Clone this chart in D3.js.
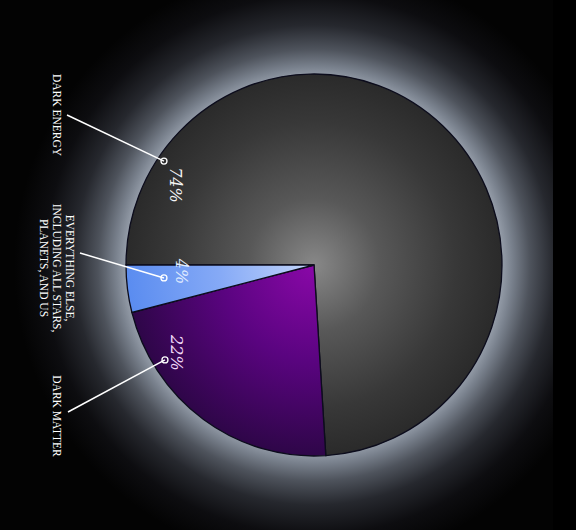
<!DOCTYPE html>
<html><head><meta charset="utf-8">
<script src="https://cdn.jsdelivr.net/npm/d3@7"></script>
<style>html,body{margin:0;padding:0;background:#000;overflow:hidden}svg{display:block}</style>
</head><body>
<script>
// ---- data ----
const categories = ["DARK ENERGY", "DARK MATTER", "EVERYTHING ELSE"];
const values = [74, 22, 4];
const percentLabels = ["74%", "22%", "4%"];
const labelLines = [
  ["DARK ENERGY"],
  ["DARK MATTER"],
  ["EVERYTHING ELSE,", "INCLUDING ALL STARS,", "PLANETS, AND US"]
];

// ---- layout ----
const W = 576, H = 530;
const cx = 314, cy = 265, R = 188, yStretch = 191 / 188;
// annotation anchors (polar around pie centre: angle in radians, radius)
const dotPolar = [[-0.965, 182.5], [-2.138, 176.7], [-1.657, 150.6]];
const textPolar = [[-1.047, 160], [-2.140, 163], [-1.620, 133]];
const labelPos = [[57, 115], [57, 416], [57, 268]];
const lineStart = [[67, 115], [68, 412], [80, 253]];

const svg = d3.select("body").append("svg").attr("width", W).attr("height", H);
const defs = svg.append("defs");

const halo = defs.append("radialGradient").attr("id", "halo")
  .attr("gradientUnits", "userSpaceOnUse").attr("cx", cx).attr("cy", cy).attr("r", 300);
[[0, "#9aa2ae"], [0.62, "#9aa2ae"], [0.66, "#7a828e"], [0.72, "#4e535c"], [0.80, "#26282e"], [0.90, "#0d0d10"], [1, "#030303"]]
  .forEach(([o, c]) => halo.append("stop").attr("offset", o).attr("stop-color", c));

function radial(id, stops) {
  const g = defs.append("radialGradient").attr("id", id)
    .attr("gradientUnits", "userSpaceOnUse").attr("cx", 0).attr("cy", 0).attr("r", R);
  stops.forEach(([o, c]) => g.append("stop").attr("offset", o).attr("stop-color", c));
}
radial("gDE", [[0, "#888888"], [0.35, "#585858"], [0.75, "#383838"], [1, "#2a2a2a"]]);
radial("gDM", [[0, "#8a08a8"], [0.5, "#5a0480"], [1, "#2e0648"]]);
radial("gEE", [[0, "#c4d6fb"], [0.5, "#86aaf6"], [1, "#5a8cf0"]]);
const fills = ["url(#gDE)", "url(#gDM)", "url(#gEE)"];

svg.append("rect").attr("width", W).attr("height", H).attr("fill", "url(#halo)");
svg.append("rect").attr("x", 553).attr("width", W - 553).attr("height", H).attr("fill", "#000");

const pie = d3.pie().sort(null).startAngle(1.5 * Math.PI).endAngle(3.5 * Math.PI);
const arc = d3.arc().innerRadius(0).outerRadius(R);
const arcs = pie(values);

const g = svg.append("g").attr("transform", `translate(${cx},${cy}) scale(1,${yStretch})`);
g.selectAll("path").data(arcs).join("path")
  .attr("d", arc)
  .attr("fill", (d, i) => fills[i])
  .attr("stroke", "#0c0c1c").attr("stroke-width", 1.3);

// annotations
const pt = (p) => { const q = d3.pointRadial(p[0], p[1]); return [cx + q[0], cy + q[1]]; };
categories.forEach((c, i) => {
  const dot = pt(dotPolar[i]);
  svg.append("line")
    .attr("x1", lineStart[i][0]).attr("y1", lineStart[i][1])
    .attr("x2", dot[0]).attr("y2", dot[1])
    .attr("stroke", "#ffffff").attr("stroke-width", 1.5);
  svg.append("circle").attr("cx", dot[0]).attr("cy", dot[1]).attr("r", 3)
    .attr("fill", "none").attr("stroke", "#ffffff").attr("stroke-width", 1.3);
  const tp = pt(textPolar[i]);
  svg.append("text")
    .attr("transform", `translate(${tp[0]},${tp[1]}) rotate(90)`)
    .attr("text-anchor", "middle").attr("dy", "0.35em")
    .attr("font-family", "'DejaVu Serif', serif").attr("font-style", "italic")
    .attr("font-size", 16)
    .attr("fill", i === 1 ? "#f0d8f8" : (i === 2 ? "#e0ecff" : "#f4f4f4"))
    .text(percentLabels[i]);
  const lines = labelLines[i];
  const t = svg.append("text")
    .attr("transform", `translate(${labelPos[i][0]},${labelPos[i][1]}) rotate(90)`)
    .attr("text-anchor", "middle")
    .attr("font-family", "'Liberation Serif', 'Times New Roman', serif")
    .attr("font-size", 11.5).attr("fill", "#ffffff");
  lines.forEach((ln, k) => {
    t.append("tspan").attr("x", 0)
      .attr("y", (k - (lines.length - 1) / 2) * 13 + 4)
      .text(ln);
  });
});
</script>
</body></html>
